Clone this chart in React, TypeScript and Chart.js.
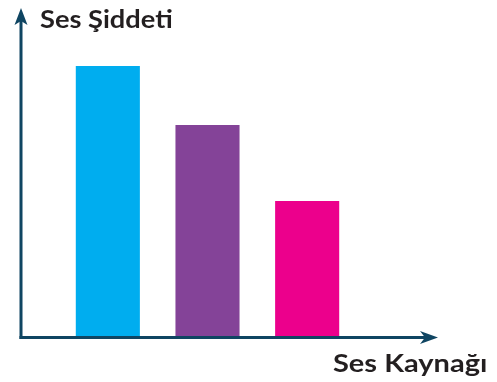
import React, { useEffect, useRef } from "react";
import { Chart, registerables } from "chart.js";

Chart.register(...registerables);

const categories = ["Kaynak 1", "Kaynak 2", "Kaynak 3"];
const values = [9, 7.03, 4.5];
const barColors = ["#00adef", "#844398", "#ec008c"];
const yTitle = "Ses Şiddeti";
const xTitle = "Ses Kaynağı";

const AXIS_COLOR = "#0f4562";

function drawText(ctx: any, text: string, x: number, y: number, sx: number) {
  ctx.save();
  ctx.textAlign = "left";
  ctx.translate(x, y);
  ctx.scale(sx, 1);
  ctx.fillText(text, 0, 0);
  ctx.restore();
}

const axesPlugin = {
  id: "arrowAxes",
  afterDatasetsDraw(chart: any) {
    const { ctx, chartArea } = chart;
    const ax = chartArea.left - 37;
    const ay = chartArea.bottom + 1.5;
    ctx.save();
    ctx.strokeStyle = AXIS_COLOR;
    ctx.fillStyle = AXIS_COLOR;
    ctx.lineWidth = 3;
    ctx.lineCap = "butt";
    // y axis
    const yTop = chartArea.top - 28;
    ctx.beginPath();
    ctx.moveTo(ax, ay + 1.5);
    ctx.lineTo(ax, yTop + 8);
    ctx.stroke();
    ctx.beginPath();
    ctx.moveTo(ax, yTop);
    ctx.lineTo(ax + 6.5, yTop + 17);
    ctx.lineTo(ax, yTop + 13);
    ctx.lineTo(ax - 6.5, yTop + 17);
    ctx.closePath();
    ctx.fill();
    // x axis
    const xEnd = chartArea.right + 81;
    ctx.beginPath();
    ctx.moveTo(ax - 1.5, ay);
    ctx.lineTo(xEnd - 8, ay);
    ctx.stroke();
    ctx.beginPath();
    ctx.moveTo(xEnd, ay);
    ctx.lineTo(xEnd - 18, ay - 6.5);
    ctx.lineTo(xEnd - 13, ay);
    ctx.lineTo(xEnd - 18, ay + 6.5);
    ctx.closePath();
    ctx.fill();
    // titles
    ctx.fillStyle = "#231f20";
    ctx.font = "bold 25px Lato";
    ctx.textBaseline = "alphabetic";
    drawText(ctx, yTitle, ax + 19, chartArea.top - 8, 1.09);
    drawText(ctx, xTitle, ax + 312, chartArea.bottom + 36, 1.16);
    ctx.restore();
  },
};

export default function App() {
  const ref = useRef<HTMLCanvasElement | null>(null);
  useEffect(() => {
    document.body.style.margin = "0";
    const chart = new Chart(ref.current!, {
      type: "bar",
      data: {
        labels: categories,
        datasets: [
          {
            data: values,
            backgroundColor: barColors,
            borderWidth: 0,
            barPercentage: 0.643,
            categoryPercentage: 1,
          },
        ],
      },
      options: {
        animation: false,
        responsive: false,
        maintainAspectRatio: false,
        layout: { padding: { left: 58, right: 140, top: 36, bottom: 46 } },
        plugins: { legend: { display: false }, tooltip: { enabled: false }, title: { display: false } },
        scales: {
          x: { display: false, offset: true },
          y: { display: false, min: 0, max: 10 },
        },
      },
      plugins: [axesPlugin],
    });
    return () => chart.destroy();
  }, []);
  return (
    <div style={{ width: 497, height: 382 }}>
      <canvas ref={ref} width={497} height={382} style={{ display: "block" }} />
    </div>
  );
}
